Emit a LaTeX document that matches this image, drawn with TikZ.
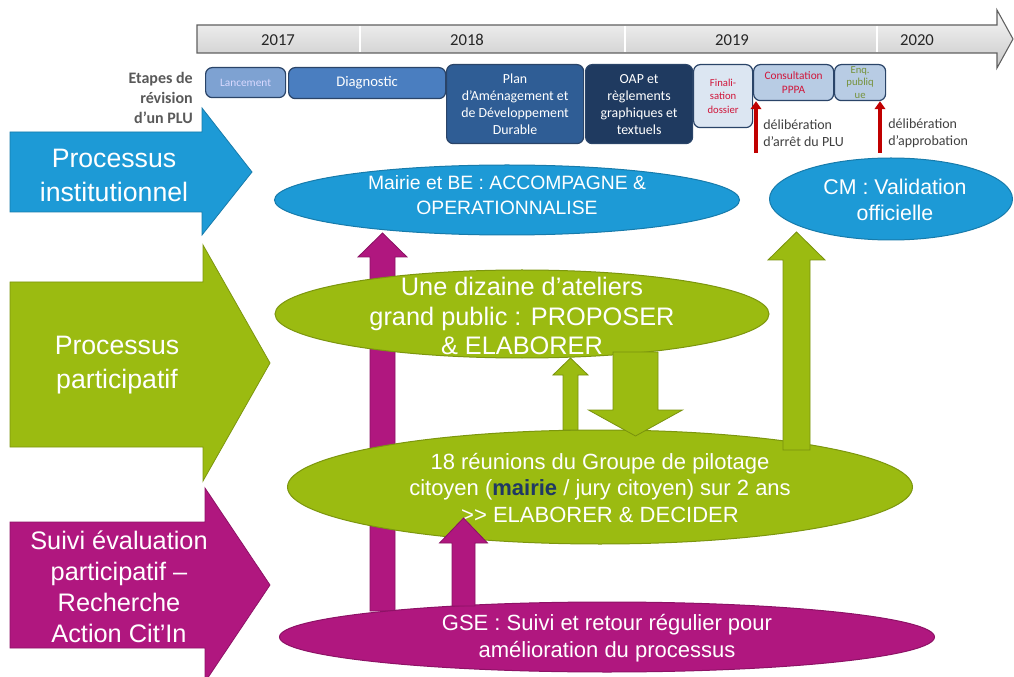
\documentclass[tikz,border=0pt]{standalone}
\usepackage{fontspec}
\setmainfont{Liberation Sans}
\newfontfamily\calfont{Carlito}
\usetikzlibrary{shapes.geometric,arrows.meta,calc}
\definecolor{cblue}{HTML}{1D9AD6}
\definecolor{cgreen}{HTML}{9BBB11}
\definecolor{cmag}{HTML}{B0177F}
\definecolor{navy}{HTML}{1F3864}
\definecolor{sbord}{HTML}{2A4468}
\definecolor{slanc}{HTML}{7EA2D2}
\definecolor{sdiag}{HTML}{4A7EC0}
\definecolor{spadd}{HTML}{2F5D95}
\definecolor{soap}{HTML}{1F3A60}
\definecolor{sfin}{HTML}{DCE6F2}
\definecolor{scons}{HTML}{B8CCE4}
\definecolor{dred}{HTML}{C00000}
\definecolor{tred}{HTML}{D0163A}
\definecolor{tgreen}{HTML}{76923C}
\definecolor{tgray}{HTML}{404040}
\definecolor{egray}{HTML}{595959}
\newcommand{\blkarrow}[7]{%
  \pgfmathsetmacro{\bxl}{#2-#5}\pgfmathsetmacro{\bxr}{#2+#5}%
  \pgfmathsetmacro{\bhl}{#2-#6}\pgfmathsetmacro{\bhr}{#2+#6}%
  \pgfmathsetmacro{\bby}{#4+#7}%
  \filldraw[fill=#1, draw=#1!78!black, line width=0.6pt]
    (\bxl,#3) -- (\bxl,\bby) -- (\bhl,\bby) -- (#2,#4)
    -- (\bhr,\bby) -- (\bxr,\bby) -- (\bxr,#3) -- cycle;}
\begin{document}
\begin{tikzpicture}[x=0.75pt,y=-0.75pt,
  stage/.style={draw=sbord, line width=0.9pt, rounded corners=5pt, anchor=north west,
    inner sep=0pt, align=center},
  ell/.style={ellipse, line width=0.75pt, inner sep=0pt},
  bigtxt/.style={text=white, align=center, inner sep=0pt},
  yr/.style={font=\calfont\fontsize{12.5}{14}\selectfont, text=black!85},
  redarr/.style={draw=dred, line width=2.4pt, -{Triangle[width=8pt,length=6pt]}},
  delib/.style={anchor=west, align=left, text=tgray, inner sep=0pt,
    font=\calfont\fontsize{10.5}{12.75}\selectfont}]
\useasboundingbox (0,0) rectangle (1014,677);
\clip (0,0) rectangle (1014,677);

% timeline
\shadedraw[top color=gray!6, bottom color=gray!42, draw=gray!75!black, line width=0.8pt]
  (197,25) -- (997,25) -- (997,10) -- (1013,39) -- (997,68) -- (997,53) -- (197,53) -- cycle;
\foreach \xx in {360,625,877} \draw[white, line width=1.3pt] (\xx,26) -- (\xx,52);
\node[yr] (y2017) at (278,40) {2017};
\node[yr] (y2018) at (467,40) {2018};
\node[yr] (y2019) at (732,40) {2019};
\node[yr] (y2020) at (917,40) {2020};

% stages
\node[stage, fill=slanc, minimum width=60pt, minimum height=22.5pt,
  font=\calfont\fontsize{8.5}{10}\selectfont, text=white!85!blue] (lanc) at (205,67) {Lancement};
\node[stage, fill=sdiag, minimum width=117.75pt, minimum height=23.25pt,
  font=\calfont\fontsize{11}{13}\selectfont, text=white] (diag) at (288,67) {Diagnostic};
\node[stage, fill=spadd, minimum width=102.75pt, minimum height=59.25pt,
  font=\calfont\fontsize{10.4}{12.75}\selectfont, text=white] (padd) at (446,64)
  {Plan\\d’Aménagement et\\de Développement\\Durable};
\node[stage, fill=soap, minimum width=80.25pt, minimum height=59.25pt,
  font=\calfont\fontsize{10.4}{12.75}\selectfont, text=white] (oap) at (585,64)
  {OAP et\\règlements\\graphiques et\\textuels};
\node[stage, fill=sfin, minimum width=44.25pt, minimum height=47.25pt,
  font=\calfont\fontsize{8}{10}\selectfont, text=tred] (fin) at (693,64)
  {Finali-\\sation\\dossier};
\node[stage, fill=scons, minimum width=60pt, minimum height=27pt,
  font=\calfont\fontsize{8.5}{10.5}\selectfont, text=tred] (cons) at (753,64)
  {Consultation\\PPPA};
\node[stage, fill=scons, minimum width=38.25pt, minimum height=27pt,
  font=\calfont\fontsize{8}{9.5}\selectfont, text=tgreen] (enq) at (834,64)
  {Enq.\\publiq\\ue};

\coordinate (ra1) at (756,153);
\coordinate (ra2) at (880,153);
\draw[redarr] (ra1) -- (ra1 |- cons.south);
\draw[redarr] (ra2) -- (ra2 |- enq.south);
\node[delib] (d1) at (763,133) {délibération\\d’arrêt du PLU};
\node[delib] (d2) at (888,133) {délibération\\d’approbation};

\node[anchor=east, align=right, inner sep=0pt, text=egray,
  font=\calfont\bfseries\fontsize{12}{15}\selectfont] (etapes) at (193,98)
  {Etapes de\\révision\\d’un PLU};

% left process arrows
\filldraw[fill=cblue, draw=cblue!80!black, line width=0.6pt]
  (10,132) -- (202,132) -- (202,108) -- (252,172) -- (202,235) -- (202,212) -- (10,212) -- cycle;
\node[bigtxt, font=\fontsize{20}{25.5}\selectfont] (pinst) at (114,175) {Processus\\institutionnel};
\filldraw[fill=cgreen, draw=cgreen!80!black, line width=0.6pt]
  (10,282) -- (203,282) -- (203,245) -- (270,363) -- (203,481) -- (203,447) -- (10,447) -- cycle;
\node[bigtxt, font=\fontsize{20}{25.5}\selectfont] (ppart) at (117,365) {Processus\\participatif};
\filldraw[fill=cmag, draw=cmag!80!black, line width=0.6pt]
  (10,522) -- (205,522) -- (205,488) -- (270,585) -- (205,682) -- (205,648) -- (10,648) -- cycle;
\node[bigtxt, font=\fontsize{19}{23.25}\selectfont] (psuivi) at (119,587)
  {Suivi évaluation\\participatif –\\Recherche\\Action Cit’In};

% tall magenta arrow (behind ellipses)
\blkarrow{cmag}{382.5}{611}{233}{12.5}{24.5}{24}

% ellipses
\node[ell, fill=cblue, draw=cblue!80!black, minimum width=348.75pt, minimum height=52.5pt] (mairie) at (507,200) {};
\node[bigtxt, font=\fontsize{14.5}{18.75}\selectfont] (tmairie) at (507,195)
  {Mairie et BE : ACCOMPAGNE \&\\OPERATIONNALISE};
\node[ell, fill=cblue, draw=cblue!80!black, minimum width=182.25pt, minimum height=61.5pt] (cm) at (891,199) {};
\node[bigtxt, font=\fontsize{16}{19.5}\selectfont] (tcm) at (895,200) {CM : Validation\\officielle};
\node[ell, fill=cgreen, draw=cgreen!80!black, minimum width=370.5pt, minimum height=66pt] (atel) at (522,314) {};
\node[bigtxt, font=\fontsize{19}{22}\selectfont] (tatel) at (522,316)
  {Une dizaine d’ateliers\\grand public : PROPOSER\\\& ELABORER};
\node[ell, fill=cgreen, draw=cgreen!80!black, minimum width=468.75pt, minimum height=85.5pt] (reun) at (600,487) {};
\node[bigtxt, font=\fontsize{16.5}{20}\selectfont] (treun) at (600,488)
  {18 réunions du Groupe de pilotage\\citoyen ({\bfseries\color{navy}mairie} / jury citoyen) sur 2 ans\\>{}> ELABORER \& DECIDER};
\node[ell, fill=cmag, draw=cmag!80!black, minimum width=491.25pt, minimum height=52.5pt] (gse) at (607,637) {};
\node[bigtxt, font=\fontsize{16.5}{20.25}\selectfont] (tgse) at (607,638)
  {GSE : Suivi et retour régulier pour\\amélioration du processus};

% other block arrows
\blkarrow{cmag}{463.5}{606}{518}{11.5}{24}{25}
\blkarrow{cgreen}{570.5}{430}{358}{7.5}{17.5}{17}
\blkarrow{cgreen}{635.5}{352}{436}{22.5}{47}{-26}
\blkarrow{cgreen}{796.5}{450}{232}{13.5}{28.5}{28}
\end{tikzpicture}
\end{document}
